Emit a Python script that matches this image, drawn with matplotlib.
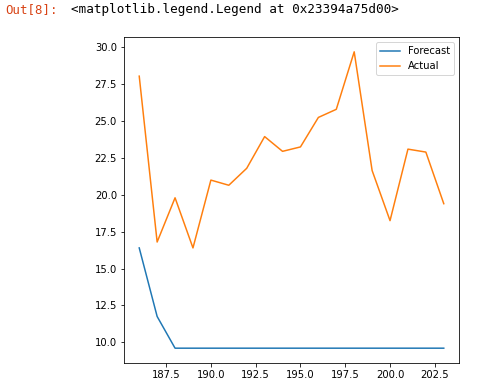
import matplotlib
matplotlib.use("Agg")
import matplotlib.pyplot as plt

x = list(range(186, 204))
forecast = [16.4, 11.75, 9.6, 9.6, 9.6, 9.6, 9.6, 9.6, 9.6, 9.6, 9.6, 9.6, 9.6, 9.6, 9.6, 9.6, 9.6, 9.6]
actual = [28.05, 16.8, 19.8, 16.4, 21.0, 20.65, 21.8, 23.95, 22.95, 23.25, 25.25, 25.8, 29.7, 21.65, 18.25, 23.1, 22.9, 19.4]

plt.rcParams['font.size'] = 10
fig = plt.figure(figsize=(485/72, 383/72), dpi=72)
ax = fig.add_axes([124/485, 1-363/383, (459-124)/485, (363-37)/383])
ax.plot(x, forecast, label="Forecast")
ax.plot(x, actual, label="Actual")
ax.legend()

fig.text(5/485, 1-9.5/383, "Out[8]:", color="#D84315", family="DejaVu Sans Mono",
         fontsize=12.4, va="center", ha="left")
fig.text(71/485, 1-9.5/383, "<matplotlib.legend.Legend at 0x23394a75d00>", color="black",
         family="DejaVu Sans Mono", fontsize=12.65, va="center", ha="left")

fig.savefig("out.png", dpi=72)
